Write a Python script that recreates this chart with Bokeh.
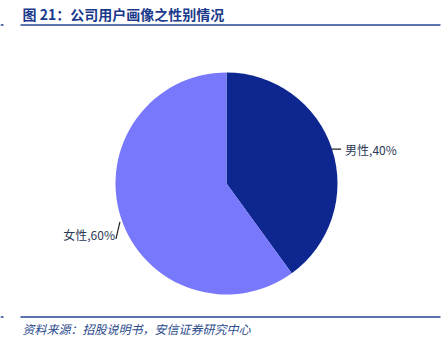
import math
from bokeh.plotting import figure
from bokeh.models import Range1d
from bokeh.core.properties import value
from bokeh.embed import file_html
from bokeh.resources import INLINE

title = "图 21：公司用户画像之性别情况"
source = "资料来源：招股说明书，安信证券研究中心"
categories = ["男性", "女性"]
shares = [40, 60]
colors = ["#0d2690", "#7878fc"]

W, H = 448, 356
p = figure(width=W, height=H, output_backend="svg", toolbar_location=None,
           x_range=Range1d(0, W), y_range=Range1d(0, H), min_border=0)
p.axis.visible = False
p.grid.visible = False
p.outline_line_color = None
p.background_fill_color = "white"

def Y(py):
    return H - py

cx, cy, r = 226, Y(183), 111
total = sum(shares)
start = math.pi / 2
starts, ends, mids = [], [], []
acc = 0
for s in shares:
    a0 = start - 2 * math.pi * acc / total
    a1 = start - 2 * math.pi * (acc + s) / total
    starts.append(a1); ends.append(a0); mids.append((a0 + a1) / 2)
    acc += s

p.wedge(x=[cx] * len(shares), y=[cy] * len(shares), radius=r,
        start_angle=starts, end_angle=ends, fill_color=colors,
        line_color=None)

# labels with leader lines
font = value("Noto Sans CJK SC")
for cat, s, m in zip(categories, shares, mids):
    ex, ey = cx + r * math.cos(m), cy + r * math.sin(m)
    label = f"{cat},{s}%"
    if math.cos(m) >= 0:
        p.line([ex, ex + 9], [ey, ey], line_color="#222222", line_width=1.2)
        p.text(x=[ex + 13], y=[ey], text=[label], text_font=font,
               text_font_size="12px", text_color="#2b3a55",
               text_align="left", text_baseline="middle")
    else:
        x0, y0 = ex - 1, ey - 4
        x1, y1 = ex - 5, ey - 21
        p.line([x0, x1], [y0, y1], line_color="#222222", line_width=1.2)
        p.text(x=[x1 - 1], y=[y1 + 4], text=[label], text_font=font,
               text_font_size="12px", text_color="#2b3a55",
               text_align="right", text_baseline="middle")

# header / footer
p.text(x=[22], y=[Y(13)], text=[title], text_font=font, text_font_size="14px",
       text_font_style="bold", text_color="#1b3a8c", text_align="left",
       text_baseline="middle")
p.line([20, 440], [Y(24.5), Y(24.5)], line_color="#5a74b0", line_width=2)
p.line([0, 3], [Y(24.5), Y(24.5)], line_color="#5a74b0", line_width=2)
p.line([20, 440], [Y(316.5), Y(316.5)], line_color="#5a74b0", line_width=2)
p.line([0, 3], [Y(316.5), Y(316.5)], line_color="#5a74b0", line_width=2)
p.text(x=[22], y=[Y(328)], text=[source], text_font=font, text_font_size="12px",
       text_font_style="italic", text_color="#2a4a8c", text_align="left",
       text_baseline="middle")

open("out.html", "w").write(file_html(p, INLINE))
